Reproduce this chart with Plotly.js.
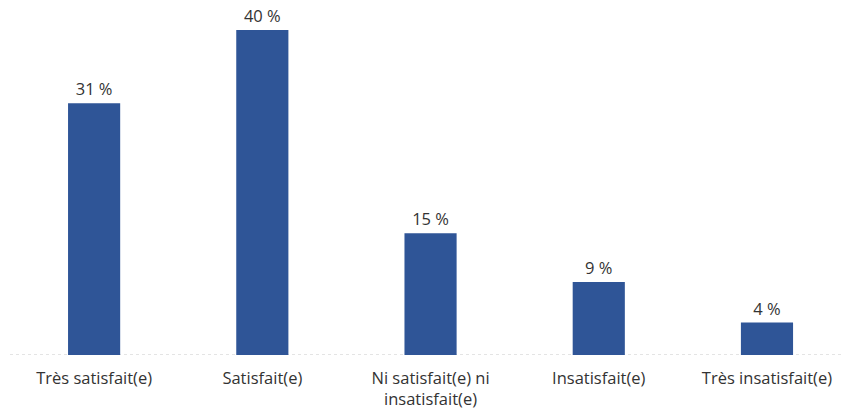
<!DOCTYPE html>
<html>
<head>
<meta charset="utf-8">
<script src="https://cdn.plot.ly/plotly-3.0.1.min.js"></script>
<style>
  html, body { margin: 0; padding: 0; background: #fff; }
  #chart { width: 841px; height: 414px; }
</style>
</head>
<body>
<div id="chart"></div>
<script>
// Satisfaction survey results (share of respondents, %)
const categories = [
  "Très satisfait(e)",
  "Satisfait(e)",
  "Ni satisfait(e) ni<br>insatisfait(e)",
  "Insatisfait(e)",
  "Très insatisfait(e)"
];
const values = [31, 40, 15, 9, 4];
const valueLabels = values.map(v => v + " %");

const textFont = { family: "'Open Sans', sans-serif", size: 16.5, color: "#333333" };

const trace = {
  type: "bar",
  x: categories.map((_, i) => i),
  y: values,
  text: valueLabels,
  textposition: "outside",
  textfont: textFont,
  cliponaxis: false,
  width: 0.31,
  marker: { color: "#2F5597", line: { color: "#2F5597", width: 0 } },
  hoverinfo: "none"
};

const layout = {
  width: 841,
  height: 414,
  margin: { l: 10, r: 0, t: 2, b: 59 },
  paper_bgcolor: "#ffffff",
  plot_bgcolor: "#ffffff",
  showlegend: false,
  font: textFont,
  xaxis: {
    range: [-0.5, 4.44],
    tickmode: "array",
    tickvals: categories.map((_, i) => i),
    ticktext: categories,
    showgrid: false,
    zeroline: false,
    showline: false,
    ticks: "",
    ticklabelstandoff: 11,
    tickfont: textFont,
    fixedrange: true
  },
  yaxis: {
    range: [0, 43.45],
    visible: false,
    showgrid: false,
    zeroline: false,
    fixedrange: true
  },
  shapes: [{
    type: "line",
    xref: "paper", yref: "y",
    x0: 0, x1: 1, y0: 0, y1: 0,
    line: { color: "#c8c8c8", width: 1, dash: "dot" },
    layer: "below"
  }]
};

Plotly.newPlot("chart", [trace], layout, { displayModeBar: false, staticPlot: true });
</script>
</body>
</html>
